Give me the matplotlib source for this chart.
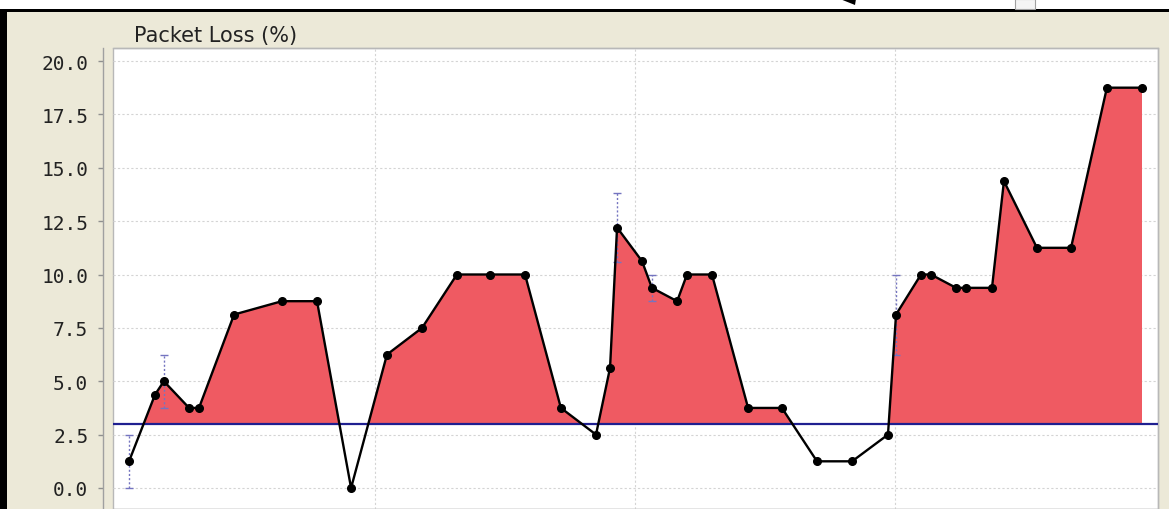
import matplotlib
matplotlib.use("Agg")
import matplotlib.pyplot as plt
from matplotlib.patches import Rectangle, Polygon
import numpy as np

# ---- data ----
time_h = [0.054, 0.154, 0.188, 0.285, 0.323, 0.458, 0.642, 0.777, 0.908,
          1.046, 1.181, 1.315, 1.442, 1.577, 1.715, 1.850, 1.904, 1.931,
          2.027, 2.065, 2.162, 2.200, 2.296, 2.435, 2.565, 2.700, 2.835,
          2.973, 3.004, 3.100, 3.138, 3.235, 3.273, 3.373, 3.419, 3.546,
          3.677, 3.815, 3.950]
loss_pct = [1.25, 4.375, 5.0, 3.75, 3.75, 8.125, 8.75, 8.75, 0.0,
            6.25, 7.5, 10.0, 10.0, 10.0, 3.75, 2.5, 5.625, 12.2,
            10.625, 9.375, 8.75, 10.0, 10.0, 3.75, 3.75, 1.25, 1.25,
            2.5, 8.125, 10.0, 10.0, 9.375, 9.375, 9.375, 14.375, 11.25,
            11.25, 18.75, 18.75]
threshold = 3.0
err_idx = [0, 2, 17, 19, 28]
err_low = [0.0, 3.75, 10.6, 8.75, 6.25]
err_high = [2.5, 6.25, 13.8, 10.0, 10.0]
y_ticks = [0.0, 2.5, 5.0, 7.5, 10.0, 12.5, 15.0, 17.5, 20.0]
y_tick_labels = ["%.1f" % v for v in y_ticks]
x_grid = [1, 2, 3]
title = "Packet Loss (%)"

W, H = 1169, 510
fig = plt.figure(figsize=(W / 100, H / 100), dpi=100)
fig.patch.set_facecolor("#ECE9D8")

# screenshot frame pieces
fig.patches.append(Rectangle((0, 1 - 10 / H), 1, 10 / H, transform=fig.transFigure,
                             facecolor="white", edgecolor="none", zorder=0))
fig.patches.append(Rectangle((0, 1 - 12.5 / H), 1, 3 / H, transform=fig.transFigure,
                             facecolor="black", edgecolor="none", zorder=1))
fig.patches.append(Rectangle((0, 0), 7 / W, 1 - 10 / H, transform=fig.transFigure,
                             facecolor="black", edgecolor="none", zorder=1))
fig.patches.append(Rectangle((1015 / W, 1 - 10 / H), 20 / W, 10 / H, transform=fig.transFigure,
                             facecolor="#f4f4f4", edgecolor="#a0a0a0", lw=0.8, zorder=1))
fig.patches.append(Polygon([(840 / W, 1.0), (856 / W, 1.0), (855 / W, 1 - 6 / H)],
                           closed=True, transform=fig.transFigure,
                           facecolor="black", edgecolor="none", zorder=1))

ax = fig.add_axes([113 / W, 0, (1158 - 113) / W, (H - 49) / H])
ax.set_facecolor("white")

for s in ["top", "right", "bottom"]:
    ax.spines[s].set_color("#b8b8b8")
    ax.spines[s].set_linewidth(1.0)
ax.spines["left"].set_position(("outward", 7.2))
ax.spines["left"].set_color("#a0a0a0")
ax.spines["left"].set_linewidth(1.0)
ax.patch.set_edgecolor("#b8b8b8")
ax.patch.set_linewidth(1.0)

ax.set_xlim(-2 / 260, (1158 - 115) / 260)
ax.set_ylim(-21 / 21.35, 20 + 13 / 21.35)

x = np.array(time_h)
y = np.array(loss_pct)

ax.fill_between(x, y, threshold, where=y > threshold, interpolate=True,
                facecolor="#EF5A62", edgecolor="none", zorder=2)
ax.axhline(threshold, color="#1f1f90", lw=1.6, zorder=3)

ex = x[err_idx]
ey = y[err_idx]
lo = ey - np.array(err_low)
hi = np.array(err_high) - ey
eb = ax.errorbar(ex, ey, yerr=[lo, hi], fmt="none", ecolor="#7474c0",
                 elinewidth=1.0, capsize=3, capthick=1.0, zorder=3)
for lc in eb[2]:
    lc.set_linestyle((0, (1.5, 1.5)))

ax.plot(x, y, color="black", lw=1.7, marker="o", markersize=5.5, zorder=4)

# grid / ticks
ax.set_yticks(y_ticks)
ax.set_yticklabels(y_tick_labels)
ax.set_xticks(x_grid)
ax.tick_params(axis="x", length=0, labelbottom=False)
ax.tick_params(axis="y", direction="out", length=3.6, width=1, color="#909090", pad=7,
               labelsize=14, labelcolor="#222222", labelfontfamily="DejaVu Sans Mono")
ax.grid(True, color="#d4d4d4", linestyle=(0, (2, 2)), lw=0.8)
ax.set_axisbelow(True)

fig.text(134 / W, 1 - 42 / H, title, fontsize=15, family="DejaVu Sans",
         color="#222222", va="baseline", ha="left")

fig.savefig("out.png", dpi=100, facecolor=fig.get_facecolor())
